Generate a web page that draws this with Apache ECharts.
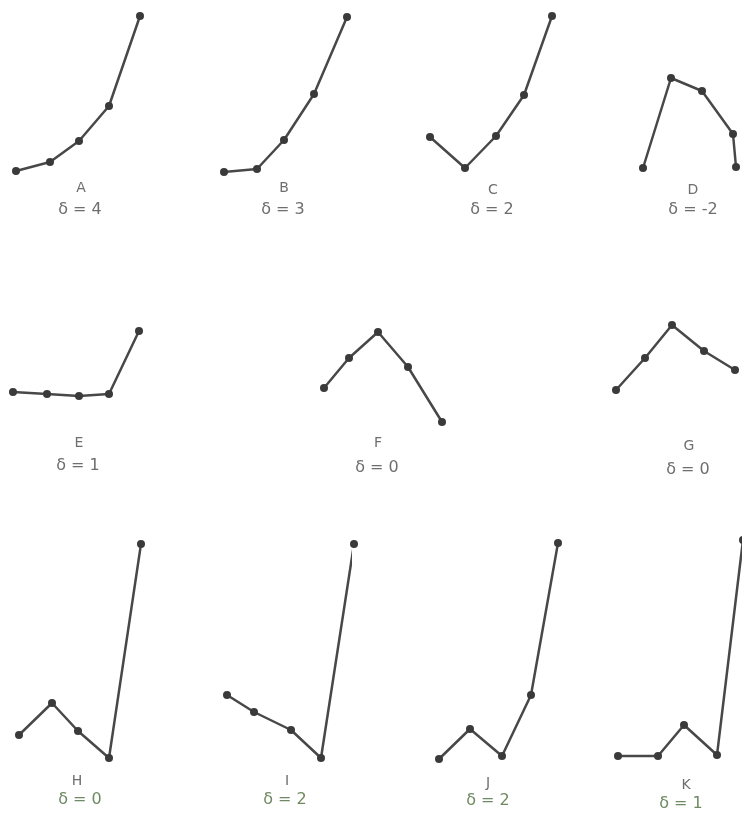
<!DOCTYPE html>
<html>
<head>
<meta charset="utf-8">
<script src="https://cdn.jsdelivr.net/npm/echarts@6/dist/echarts.min.js"></script>
<style>
  html, body { margin: 0; padding: 0; background: #fff; }
  #chart { width: 742px; height: 819px; }
</style>
</head>
<body>
<div id="chart"></div>
<script>
// panel names and their delta values
const panelNames = ['A', 'B', 'C', 'D', 'E', 'F', 'G', 'H', 'I', 'J', 'K']
const deltaLabels = ['δ = 4', 'δ = 3', 'δ = 2', 'δ = -2', 'δ = 1', 'δ = 0', 'δ = 0', 'δ = 0', 'δ = 2', 'δ = 2', 'δ = 1']

// [x, y] per panel (1 unit ~ 10px)
const pointsA = [[1.6, 0.9], [5.0, 1.8], [7.9, 3.9], [10.9, 7.4], [14.0, 16.4]]
const pointsB = [[1.4, 0.8], [4.7, 1.1], [7.4, 4.0], [10.4, 8.6], [13.7, 16.3]]
const pointsC = [[1.0, 4.3], [4.5, 1.2], [7.6, 4.4], [10.4, 8.5], [13.2, 16.4]]
const pointsD = [[4.3, 1.2], [7.1, 10.2], [10.2, 8.9], [13.3, 4.6], [13.6, 1.3]]
const pointsE = [[1.3, 3.8], [4.7, 3.6], [7.9, 3.4], [10.9, 3.6], [13.9, 9.9]]
const pointsF = [[2.4, 4.2], [4.9, 7.2], [7.8, 9.8], [10.8, 6.3], [14.2, 0.8]]
const pointsG = [[1.6, 4.0], [4.5, 7.2], [7.2, 10.5], [10.4, 7.9], [13.5, 6.0]]
const pointsH = [[1.9, 3.0], [5.2, 6.2], [7.8, 3.4], [10.9, 0.7], [14.1, 22.1]]
const pointsI = [[1.7, 7.0], [4.4, 5.3], [8.1, 3.5], [11.1, 0.7], [14.4, 22.1]]
const pointsJ = [[1.9, 0.6], [5.0, 3.6], [8.2, 0.9], [11.1, 7.0], [13.8, 22.2]]
const pointsK = [[1.8, 0.9], [5.8, 0.9], [8.4, 4.0], [11.7, 1.0], [14.3, 22.5]]

const allPoints = [pointsA, pointsB, pointsC, pointsD, pointsE, pointsF, pointsG, pointsH, pointsI, pointsJ, pointsK]

// panel boxes in px: left, top, height (width 140 = 14 units)
const boxes = [
  [0, 10, 170], [210, 10, 170], [420, 10, 170], [600, 10, 170],
  [0, 320, 110], [300, 320, 110], [600, 320, 110],
  [0, 535, 230], [210, 535, 230], [420, 535, 230], [600, 535, 230]
]
// label centres: name, delta
const labelPos = [
  [[81, 188], [80, 210]], [[284, 188], [283, 210]], [[493, 190], [492, 210]], [[693, 190], [693, 210]],
  [[79, 443], [78, 466]], [[378, 443], [377, 468]], [[689, 446], [688, 470]],
  [[77, 781], [80, 800]], [[287, 781], [285, 800]], [[488, 783], [488, 801]], [[686, 785], [681, 804]]
]
const greenish = { 7: true, 8: true, 9: true, 10: true }

const chart = echarts.init(document.getElementById('chart'))

const grid = boxes.map(b => ({ left: b[0], top: b[1], width: 140, height: b[2] }))
const xAxis = boxes.map((b, i) => ({ type: 'value', gridIndex: i, min: 0, max: 14, show: false }))
const yAxis = boxes.map((b, i) => ({ type: 'value', gridIndex: i, min: 0, max: b[2] / 10, show: false }))

const series = allPoints.map((pts, i) => ({
  type: 'line',
  name: panelNames[i],
  xAxisIndex: i,
  yAxisIndex: i,
  data: pts,
  symbol: 'circle',
  symbolSize: 8,
  clip: false,
  lineStyle: { color: '#484848', width: 2.5 },
  itemStyle: { color: '#3a3a3a' }
}))

const textStyle = { fontFamily: 'DejaVu Sans', fontSize: 14, fontWeight: 'normal' }
const graphic = []
panelNames.forEach((name, i) => {
  graphic.push({
    type: 'text',
    x: labelPos[i][0][0],
    y: labelPos[i][0][1],
    style: Object.assign({ text: name, fill: '#6e6e6e', align: 'center', verticalAlign: 'middle' }, textStyle)
  })
  graphic.push({
    type: 'text',
    x: labelPos[i][1][0],
    y: labelPos[i][1][1],
    style: Object.assign({ text: deltaLabels[i], fill: greenish[i] ? '#6f8a62' : '#6e6e6e', align: 'center', verticalAlign: 'middle' }, textStyle, { fontSize: 16 })
  })
})

chart.setOption({
  backgroundColor: '#ffffff',
  animation: false,
  grid: grid,
  xAxis: xAxis,
  yAxis: yAxis,
  series: series,
  graphic: graphic
})
</script>
</body>
</html>
